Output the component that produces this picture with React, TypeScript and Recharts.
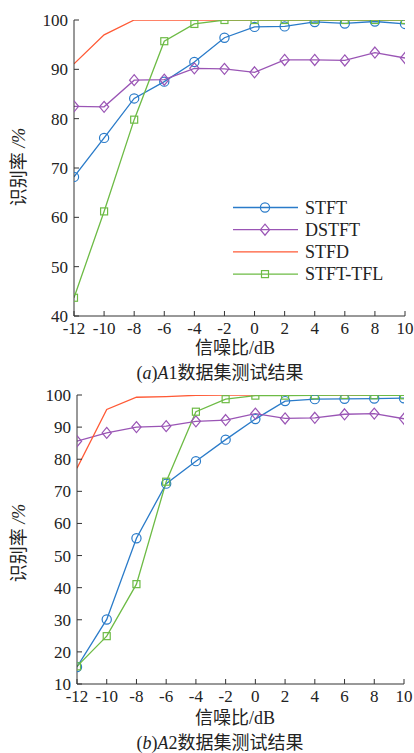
import { Line, LineChart, XAxis, YAxis } from "recharts";

// SNR (dB) categories, shared by both panels
const snr = [-12, -10, -8, -6, -4, -2, 0, 2, 4, 6, 8, 10];

// (a) A1 dataset
const a1Stft = [68.2, 76.1, 84.1, 87.5, 91.5, 96.4, 98.6, 98.7, 99.6, 99.3, 99.7, 99.2];
const a1Dstft = [82.5, 82.4, 87.8, 87.9, 90.2, 90.1, 89.4, 91.9, 91.9, 91.8, 93.4, 92.3];
const a1Stfd = [91.1, 97.0, 100, 100, 100, 100, 100, 100, 100, 100, 100, 100];
const a1Tfl = [43.7, 61.2, 79.8, 95.7, 99.2, 100, 100, 100, 100, 100, 100, 100];

// (b) A2 dataset
const a2Stft = [15.3, 30.1, 55.4, 72.4, 79.4, 86.1, 92.5, 98.1, 98.7, 98.8, 98.9, 99.0];
const a2Dstft = [85.6, 88.2, 90.0, 90.3, 91.8, 92.2, 94.2, 92.7, 92.9, 94.0, 94.2, 92.6];
const a2Stfd = [77.2, 95.5, 99.3, 99.5, 99.9, 100, 100, 100, 100, 100, 100, 100];
const a2Tfl = [15.5, 24.9, 41.1, 73.0, 94.8, 98.7, 99.8, 99.8, 99.9, 100, 99.9, 99.9];

const a1Ticks = [40, 50, 60, 70, 80, 90, 100];
const a2Ticks = [10, 20, 30, 40, 50, 60, 70, 80, 90, 100];

const FONT = "'Liberation Serif', 'Noto Sans CJK SC', serif";
const AXIS = "#333";
const TEXT = "#222";
const TICK_MARGIN = 6;

const series = [
  { key: "stft", name: "STFT", color: "#2a7bc9", marker: "circle" },
  { key: "dstft", name: "DSTFT", color: "#9a55b5", marker: "diamond" },
  { key: "stfd", name: "STFD", color: "#ff5a36", marker: "" },
  { key: "tfl", name: "STFT-TFL", color: "#6dbb45", marker: "square" },
];

const a1Data = snr.map((s, i) => ({
  snr: s,
  stft: a1Stft[i],
  dstft: a1Dstft[i],
  stfd: a1Stfd[i],
  tfl: a1Tfl[i],
}));

const a2Data = snr.map((s, i) => ({
  snr: s,
  stft: a2Stft[i],
  dstft: a2Dstft[i],
  stfd: a2Stfd[i],
  tfl: a2Tfl[i],
}));

function Marker({ kind, cx, cy, color }: any) {
  if (kind === "circle")
    return <circle cx={cx} cy={cy} r={4.6} fill="none" stroke={color} strokeWidth={1.2} />;
  if (kind === "diamond")
    return (
      <polygon
        points={`${cx},${cy - 5.5} ${cx + 4.6},${cy} ${cx},${cy + 5.5} ${cx - 4.6},${cy}`}
        fill="none"
        stroke={color}
        strokeWidth={1.2}
      />
    );
  if (kind === "square")
    return <rect x={cx - 3.5} y={cy - 3.5} width={7} height={7} fill="none" stroke={color} strokeWidth={1.2} />;
  return null;
}

const XTick = (p: any) => {
  const bottom = p.y - TICK_MARGIN;
  return (
    <g>
      <line x1={p.x} x2={p.x} y1={bottom} y2={bottom - 5} stroke={AXIS} />
      <text x={p.x} y={p.y} dy="0.71em" textAnchor="middle" fontSize={17} fontFamily={FONT} fill={TEXT}>
        {p.payload.value}
      </text>
    </g>
  );
};

const YTick = (p: any) => {
  const left = p.x + TICK_MARGIN;
  return (
    <g>
      <line x1={left} x2={left + 5} y1={p.y} y2={p.y} stroke={AXIS} />
      <text x={p.x} y={p.y} dy="0.35em" textAnchor="end" fontSize={17} fontFamily={FONT} fill={TEXT}>
        {p.payload.value}
      </text>
    </g>
  );
};

function LegendBox({ left, top }: any) {
  return (
    <svg width={175} height={92} style={{ position: "absolute", left, top }}>
      {series.map((s, i) => {
        const y = 11.5 + i * 22.2;
        return (
          <g key={s.key}>
            <line x1={5} x2={70} y1={y} y2={y} stroke={s.color} strokeWidth={1.3} />
            <Marker kind={s.marker} cx={37} cy={y} color={s.color} />
            <text x={77} y={y} dy="0.35em" fontSize={18} fontFamily={FONT} fill={TEXT}>
              {s.name}
            </text>
          </g>
        );
      })}
    </svg>
  );
}

function Panel({ data, ticks, domain, height, margin }: any) {
  return (
    <LineChart width={414} height={height} data={data} margin={margin}>
      <XAxis
        dataKey="snr"
        type="number"
        domain={[-12, 10]}
        ticks={snr}
        allowDataOverflow
        height={24}
        stroke={AXIS}
        tickSize={0}
        tickMargin={TICK_MARGIN}
        tickLine={false}
        tick={XTick}
      />
      <XAxis
        xAxisId="top"
        dataKey="snr"
        type="number"
        orientation="top"
        domain={[-12, 10]}
        ticks={snr}
        allowDataOverflow
        mirror
        height={0}
        stroke={AXIS}
        tickSize={5}
        tick={false}
      />
      <YAxis
        type="number"
        domain={domain}
        ticks={ticks}
        allowDataOverflow
        width={60}
        stroke={AXIS}
        tickSize={0}
        tickMargin={TICK_MARGIN}
        tickLine={false}
        tick={YTick}
      />
      <YAxis
        yAxisId="right"
        type="number"
        orientation="right"
        domain={domain}
        ticks={ticks}
        allowDataOverflow
        mirror
        width={0}
        stroke={AXIS}
        tickSize={5}
        tick={false}
      />
      {series.map((s) => (
        <Line
          key={s.key}
          dataKey={s.key}
          name={s.name}
          type="linear"
          stroke={s.color}
          strokeWidth={1.3}
          isAnimationActive={false}
          dot={
            s.marker
              ? (d: any) => <Marker key={d.index} kind={s.marker} cx={d.cx} cy={d.cy} color={s.color} />
              : false
          }
          activeDot={false}
        />
      ))}
    </LineChart>
  );
}

const textBase: any = {
  position: "absolute",
  fontFamily: FONT,
  color: TEXT,
  fontSize: 18,
  lineHeight: "18px",
  textAlign: "center",
  whiteSpace: "nowrap",
};

function YLabel({ cx, cy }: any) {
  return (
    <div style={{ ...textBase, left: cx - 60, top: cy - 9, width: 120, transform: "rotate(-90deg)" }}>
      识别率 <i>/%</i>
    </div>
  );
}

export default function App() {
  return (
    <div style={{ position: "absolute", left: 0, top: 0, width: 414, height: 753, background: "#fff" }}>
      <div style={{ position: "absolute", left: 0, top: 0 }}>
        <Panel
          data={a1Data}
          ticks={a1Ticks}
          domain={[40, 100]}
          height={340}
          margin={{ top: 20, right: 9, left: 14, bottom: 0 }}
        />
      </div>
      <LegendBox left={228} top={196} />
      <YLabel cx={19} cy={167} />
      <div style={{ ...textBase, left: 135, top: 339, width: 200 }}>信噪比/dB</div>
      <div style={{ ...textBase, left: 110, top: 364, width: 220 }}>
        (<i>a</i>)<i>A</i>1数据集测试结果
      </div>

      <div style={{ position: "absolute", left: 0, top: 375 }}>
        <Panel
          data={a2Data}
          ticks={a2Ticks}
          domain={[10, 100]}
          height={333}
          margin={{ top: 20, right: 10, left: 17, bottom: 0 }}
        />
      </div>
      <YLabel cx={19} cy={543} />
      <div style={{ ...textBase, left: 135, top: 709, width: 200 }}>信噪比/dB</div>
      <div style={{ ...textBase, left: 110, top: 734, width: 220 }}>
        (<i>b</i>)<i>A</i>2数据集测试结果
      </div>
    </div>
  );
}
